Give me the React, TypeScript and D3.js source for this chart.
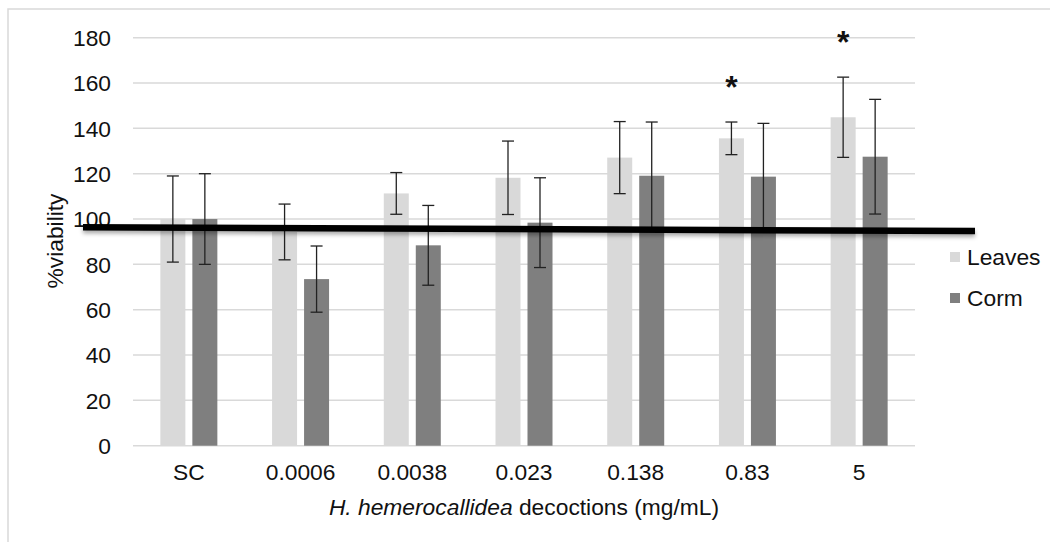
import React from "react";
import * as d3 from "d3";

const categories = ["SC", "0.0006", "0.0038", "0.023", "0.138", "0.83", "5"];
const leaves = [100, 94.3, 111.3, 118.2, 127.1, 135.6, 144.9];
const leavesErr = [19, 12.3, 9.2, 16.2, 15.9, 7.2, 17.7];
const corm = [100, 73.5, 88.4, 98.4, 119.1, 118.7, 127.5];
const cormErr = [20, 14.6, 17.6, 19.8, 23.7, 23.5, 25.3];
const yTicks = [0, 20, 40, 60, 80, 100, 120, 140, 160, 180];
const starred = ["0.83", "5"];
// hand-drawn reference line, value at its left and right ends
const refLine = [96.4, 94.7];

const series = [
  { name: "Leaves", values: leaves, err: leavesErr, color: "#d9d9d9", offset: -16 },
  { name: "Corm", values: corm, err: cormErr, color: "#7f7f7f", offset: 16 },
];

const W = 1050;
const H = 542;
const plot = { left: 133, right: 915, top: 37.7, bottom: 445.7 };
const font = "'Liberation Sans', Arial, sans-serif";
const fs = 22.8;

export default function App() {
  const x = d3.scaleBand().domain(categories).range([plot.left, plot.right]);
  const y = d3.scaleLinear().domain([0, 180]).range([plot.bottom, plot.top]);
  const barW = 25;
  const cap = 6;

  const cx = (c: string) => (x(c) as number) + x.bandwidth() / 2;

  return (
    <svg
      width={W}
      height={H}
      style={{ position: "absolute", left: 0, top: 0, background: "#fff" }}
      fontFamily={font}
    >
      <defs>
        <filter id="shadow" x="-5%" y="-200%" width="110%" height="500%">
          <feGaussianBlur stdDeviation="2" />
        </filter>
      </defs>
      <rect x={8} y={9} width={W} height={H} fill="#fff" stroke="#d9d9d9" strokeWidth={1.5} />

      {yTicks.map((t) => (
        <g key={t}>
          <line x1={plot.left} x2={plot.right} y1={y(t)} y2={y(t)} stroke="#d9d9d9" strokeWidth={1.5} />
          <text x={111} y={y(t)} dy="0.36em" textAnchor="end" fontSize={fs} fill="#111">
            {t}
          </text>
        </g>
      ))}

      {series.map((s) =>
        categories.map((c, i) => (
          <rect
            key={s.name + c}
            x={cx(c) + s.offset - barW / 2}
            y={y(s.values[i])}
            width={barW}
            height={y(0) - y(s.values[i])}
            fill={s.color}
          />
        ))
      )}

      {series.map((s) =>
        categories.map((c, i) => {
          const px = cx(c) + s.offset;
          const hi = y(s.values[i] + s.err[i]);
          const lo = y(s.values[i] - s.err[i]);
          return (
            <g key={"e" + s.name + c} stroke="#222" strokeWidth={1.3}>
              <line x1={px} x2={px} y1={hi} y2={lo} />
              <line x1={px - cap} x2={px + cap} y1={hi} y2={hi} />
              <line x1={px - cap} x2={px + cap} y1={lo} y2={lo} />
            </g>
          );
        })
      )}

      {starred.map((c) => {
        const i = categories.indexOf(c);
        const px = cx(c) + series[0].offset;
        return (
          <text
            key={"s" + c}
            x={px}
            y={y(leaves[i] + leavesErr[i]) - 24}
            textAnchor="middle"
            fontSize={32}
            fontWeight="bold"
            fill="#111"
          >
            *
          </text>
        );
      })}

      <line
        x1={83}
        x2={975}
        y1={y(refLine[0]) + 3}
        y2={y(refLine[1]) + 3}
        stroke="#000"
        strokeOpacity={0.35}
        strokeWidth={6}
        filter="url(#shadow)"
      />
      <line x1={83} x2={975} y1={y(refLine[0])} y2={y(refLine[1])} stroke="#000" strokeWidth={6.5} />

      {categories.map((c) => (
        <text key={"x" + c} x={cx(c)} y={480} textAnchor="middle" fontSize={fs} fill="#111">
          {c}
        </text>
      ))}

      <text x={(plot.left + plot.right) / 2} y={515} textAnchor="middle" fontSize={fs} fill="#111">
        <tspan fontStyle="italic">H. hemerocallidea</tspan> decoctions (mg/mL)
      </text>

      <text
        transform={`translate(63,241) rotate(-90)`}
        textAnchor="middle"
        fontSize={fs}
        fill="#111"
      >
        %viability
      </text>

      {series.map((s, i) => (
        <g key={"l" + s.name} transform={`translate(950,${252 + i * 41})`}>
          <rect width={10} height={10} fill={s.color} />
          <text x={17} y={5} dy="0.36em" fontSize={fs} fill="#111">
            {s.name}
          </text>
        </g>
      ))}
    </svg>
  );
}
